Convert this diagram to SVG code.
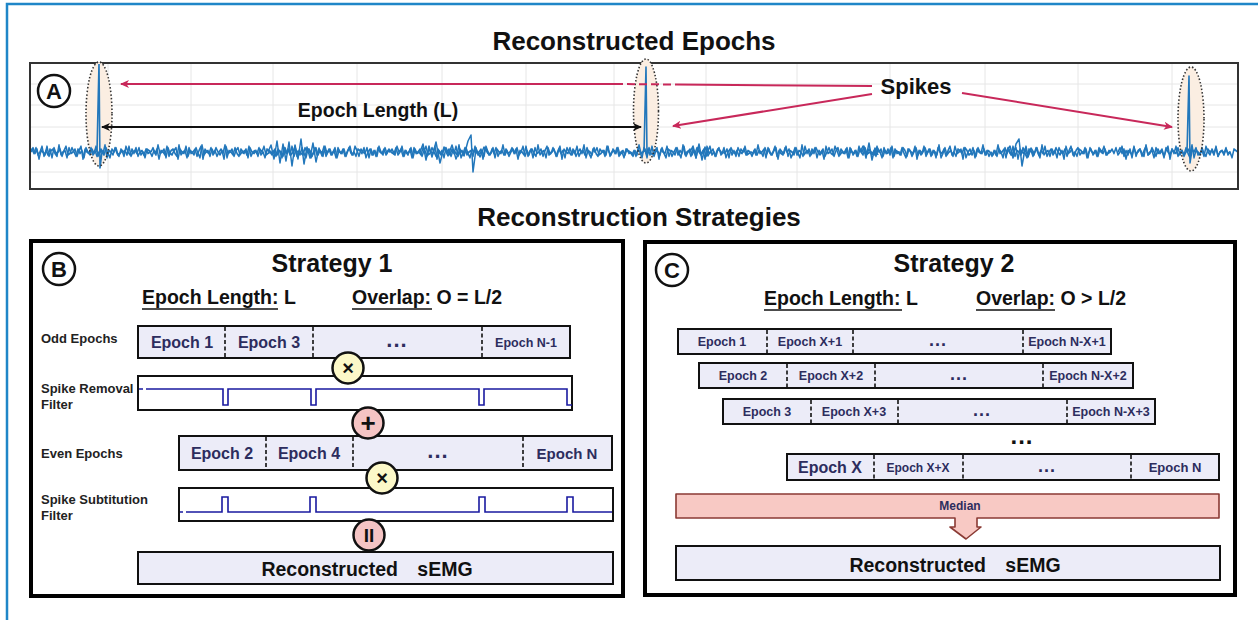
<svg xmlns="http://www.w3.org/2000/svg" width="1258" height="620" viewBox="0 0 1258 620">
<style>
text{font-family:"Liberation Sans",Arial,sans-serif;font-weight:bold}
.title{font-size:26px;fill:#111;text-anchor:middle}
.lbl{font-size:13px;fill:#222}
.ep{fill:#2d2d5e;text-anchor:middle}
.bar{fill:#ececf8;stroke:#111;stroke-width:2}
.div{stroke:#111;stroke-width:1.6;stroke-dasharray:4 2.5}
.panel{fill:#fff;stroke:#000;stroke-width:4}
.flt{fill:#fff;stroke:#111;stroke-width:2}
.sig{fill:none;stroke:#1a1aa0;stroke-width:1.6}
.op{stroke:#111;stroke-width:2.5}
.ul{stroke:#111;stroke-width:1.6}
.grid{stroke:#e6e6e6;stroke-width:1}
.emg{fill:none;stroke:#2277bb;stroke-width:1.5;stroke-linejoin:round}
.red{stroke:#c8285a;stroke-width:2;fill:none}
.ell{fill:none;stroke:#333;stroke-width:1.6;stroke-dasharray:1.5 2}
.ellf{fill:#fbeee2}
.letter{font-size:22px;fill:#111;text-anchor:middle}
</style>
<defs>
<marker id="redHead" markerWidth="10" markerHeight="10" refX="8" refY="5" orient="auto" markerUnits="userSpaceOnUse">
<path d="M0,1 L9,5 L0,9 L2.5,5 Z" fill="#c8285a"/>
</marker>
<marker id="blkHead" markerWidth="10" markerHeight="10" refX="8" refY="5" orient="auto-start-reverse" markerUnits="userSpaceOnUse">
<path d="M0,1 L9,5 L0,9 L2.5,5 Z" fill="#111"/>
</marker>
<path id="n1" d="M0 0 2 -2 4 1 6 -3 8 2 10 0 12 -4 14 3 16 -1 18 2 20 -2 22 4 24 -3 26 1 28 0 30 -2 32 3 34 -1 36 -4 38 2 40 1 42 -3 44 0 46 3 48 -2 50 1 52 -1 54 4 56 -3 58 0 60 2 62 -2 64 1 66 -4 68 3 70 0 72 -1 74 2 76 -3 78 1 80 4 82 -2 84 0 86 -3 88 2 90 1 92 -1 94 3 96 -4 98 0 100 2 102 -2 104 1 106 -3 108 3 110 0 112 -1 114 2 116 -2 118 1 120 0"/>
<path id="n2" d="M0 0 2 3 4 -1 6 2 8 -5 10 1 12 0 14 -2 16 4 18 -3 20 1 22 2 24 -1 26 -3 28 5 30 -2 32 0 34 1 36 -4 38 3 40 -1 42 0 44 2 46 -3 48 1 50 4 52 -5 54 2 56 0 58 -1 60 3 62 -2 64 1 66 -3 68 0 70 2 72 -1 74 5 76 -4 78 1 80 0 82 -2 84 3 86 -1 88 -3 90 2 92 0 94 1 96 -2 98 4 100 -3 102 0 104 1 106 -1 108 3 110 -2 112 0 114 -4 116 2 118 1 120 0"/>
<clipPath id="clipA"><rect x="31" y="64" width="1206" height="125"/></clipPath>
</defs>

<rect x="0" y="0" width="1258" height="620" fill="#fff"/>
<path d="M7,620 V4 H1258" fill="none" stroke="#1f86c8" stroke-width="2.5"/>

<text class="title" x="634" y="50">Reconstructed Epochs</text>
<text class="title" x="639" y="226">Reconstruction Strategies</text>

<!-- Panel A -->
<g id="panelA">
<rect x="30" y="63" width="1208" height="126" fill="#fff" stroke="#333" stroke-width="2"/>
<g class="grid">
<path d="M108,64V188M191,64V188M273,64V188M357,64V188M442,64V188M526,64V188M614,64V188M706,64V188M797,64V188M890,64V188M985,64V188M1078,64V188M1172,64V188"/>
<path d="M31,84H1237M31,105H1237M31,127H1237M31,172H1237"/>
</g>
<ellipse class="ellf" cx="99" cy="114" rx="13" ry="52"/>
<ellipse class="ellf" cx="646" cy="111" rx="12.5" ry="52"/>
<ellipse class="ellf" cx="1191" cy="119" rx="13" ry="52"/>
<g clip-path="url(#clipA)" class="emg">
<use href="#n1" transform="translate(30,152) scale(1,1.4)"/>
<use href="#n2" transform="translate(31,152) scale(1,-1.4)"/>
<use href="#n2" transform="translate(150,152) scale(1,1.4)"/>
<use href="#n1" transform="translate(271,152) scale(-1,1.4) translate(-120,0)"/>
<use href="#n1" transform="translate(270,152) scale(1,-1.4)"/>
<use href="#n2" transform="translate(391,152) scale(-1,1.4) translate(-120,0)"/>
<use href="#n1" transform="translate(390,152) scale(1,1.4)"/>
<use href="#n2" transform="translate(151,152) scale(1,-1.4)"/>
<use href="#n2" transform="translate(510,152) scale(1,-1.4)"/>
<use href="#n1" transform="translate(511,152) scale(1,1.4)"/>
<use href="#n1" transform="translate(630,152) scale(1,-1.4)"/>
<use href="#n2" transform="translate(631,152) scale(1,1.4)"/>
<use href="#n2" transform="translate(750,152) scale(1,1.4)"/>
<use href="#n1" transform="translate(751,152) scale(-1,1.4) translate(-120,0)"/>
<use href="#n1" transform="translate(870,152) scale(1,-1.4)"/>
<use href="#n2" transform="translate(871,152) scale(-1,1.4) translate(-120,0)"/>
<use href="#n2" transform="translate(990,152) scale(1,1.4)"/>
<use href="#n1" transform="translate(991,152) scale(1,-1.4)"/>
<use href="#n1" transform="translate(1110,152) scale(1,1.4)"/>
<use href="#n2" transform="translate(1118,152) scale(1,-1.4)"/>
<path d="M268,152 L271,145 L274,159 L277,141 L280,163 L283,144 L286,161 L289,142 L292,166 L295,145 L298,159 L301,139 L304,164 L307,147 L310,158 L313,143 L316,162 L319,148 L322,156 L325,150 L328,152"/>
<path d="M420,152 L423,144 L426,160 L429,146 L432,157 L436,142 L440,163 L444,147 L448,156 L452,145 L456,159 L460,149 L464,156 L468,141 L471,135 L473,172 L476,149 L480,157 L484,147 L488,154"/>
<path d="M690,152 L693,146 L696,158 L699,144 L702,160 L705,147 L708,156 L711,150"/>
<path d="M860,152 L863,146 L866,158 L869,143 L872,160 L875,148 L878,155"/>
<path d="M1006,152 L1010,146 L1013,158 L1016,144 L1019,139 L1022,166 L1025,149 L1028,157 L1031,148 L1034,153"/>
<path d="M97,152 L99,63 L100,168 L102,152" stroke-width="1.6"/>
<path d="M644,152 L646,67 L647,155 L649,150" stroke-width="1.6"/>
<path d="M1187,152 L1189,76 L1190,163 L1192,150" stroke-width="1.6"/>
</g>
<ellipse class="ell" cx="99" cy="114" rx="13" ry="52"/>
<ellipse class="ell" cx="646" cy="111" rx="12.5" ry="52"/>
<ellipse class="ell" cx="1191" cy="119" rx="13" ry="52"/>
<circle cx="54" cy="91" r="16" fill="#fff" stroke="#111" stroke-width="2.5"/>
<text class="letter" x="54" y="99">A</text>
<text x="916" y="94" font-size="22" fill="#111" text-anchor="middle">Spikes</text>
<text x="378" y="117" font-size="19.5" fill="#111" text-anchor="middle">Epoch Length (L)</text>
</g>

<g id="connectorsA">
<path class="red" d="M615,84 L121,84" marker-end="url(#redHead)"/>
<path class="red" d="M615,84 L677,84.5" stroke-dasharray="8 4"/>
<path class="red" d="M677,84.5 L872,86"/>
<path class="red" d="M872,94 L673,126" marker-end="url(#redHead)"/>
<path class="red" d="M962,93 L1172,127" marker-end="url(#redHead)"/>
<path d="M102,127 L641,127" stroke="#111" stroke-width="2" marker-start="url(#blkHead)" marker-end="url(#blkHead)"/>
</g>

<!-- Panel B -->
<g id="panelB">
<rect class="panel" x="31" y="241" width="592" height="355"/>
<circle cx="59" cy="269" r="16" fill="#fff" stroke="#111" stroke-width="2.5"/>
<text class="letter" x="59" y="277">B</text>
<text x="332" y="272" font-size="25" fill="#111" text-anchor="middle">Strategy 1</text>
<text x="142" y="304" font-size="19.5" fill="#111">Epoch Length: L</text>
<line class="ul" x1="142" y1="309" x2="278" y2="309"/>
<text x="352" y="304" font-size="19.5" fill="#111">Overlap: O = L/2</text>
<line class="ul" x1="352" y1="309" x2="432" y2="309"/>
</g>

<g id="oddEpochs">
<text class="lbl" x="41" y="343">Odd Epochs</text>
<rect class="bar" x="138" y="326" width="432" height="32"/>
<path class="div" d="M225,327V357M313,327V357M482,327V357"/>
<text class="ep" x="182" y="348" font-size="16">Epoch 1</text>
<text class="ep" x="269" y="348" font-size="16">Epoch 3</text>
<text class="ep" x="397" y="347" font-size="22" letter-spacing="1">...</text>
<text class="ep" x="526" y="347" font-size="12.5">Epoch N-1</text>
</g>

<g id="removalFilter">
<text class="lbl" x="41" y="393">Spike Removal</text>
<text class="lbl" x="41" y="409">Filter</text>
<rect class="flt" x="138" y="376" width="434" height="34"/>
<path class="sig" d="M139,389 H143 M146,389 H223 V405 H228 V389 H311 V405 H316 V389 H479 V405 H484 V389 H567 V405 H572"/>
</g>

<g id="evenEpochs">
<text class="lbl" x="41" y="458">Even Epochs</text>
<rect class="bar" x="179" y="436" width="433" height="34"/>
<path class="div" d="M266,437V469M353,437V469M523,437V469"/>
<text class="ep" x="222" y="459" font-size="16">Epoch 2</text>
<text class="ep" x="309" y="459" font-size="16">Epoch 4</text>
<text class="ep" x="438" y="458" font-size="22" letter-spacing="1">...</text>
<text class="ep" x="567" y="459" font-size="15">Epoch N</text>
</g>

<g id="substitutionFilter">
<text class="lbl" x="41" y="504">Spike Subtitution</text>
<text class="lbl" x="41" y="520">Filter</text>
<rect class="flt" x="179" y="488" width="434" height="33"/>
<path class="sig" d="M180,512 H183 M186,512 H222 V497 H228 V512 H310 V497 H316 V512 H479 V497 H485 V512 H567 V497 H573 V512 H612"/>
</g>

<g id="reconB">
<rect class="bar" x="138" y="552" width="475" height="32"/>
<text x="367" y="576" font-size="19.5" fill="#111" text-anchor="middle" word-spacing="14">Reconstructed sEMG</text>
</g>

<g id="operators">
<circle class="op" cx="348" cy="368" r="15.5" fill="#fcf8c8"/>
<text x="348" y="375" font-size="20" fill="#111" text-anchor="middle">×</text>
<circle class="op" cx="368" cy="423" r="15.5" fill="#f5c4c4"/>
<text x="368" y="432" font-size="26" fill="#111" text-anchor="middle">+</text>
<circle class="op" cx="382" cy="478" r="15.5" fill="#fcf8c8"/>
<text x="382" y="485" font-size="20" fill="#111" text-anchor="middle">×</text>
<circle class="op" cx="369" cy="535" r="15.5" fill="#f5c4c4"/>
<text x="369" y="542" font-size="19" fill="#111" text-anchor="middle">II</text>
</g>

<!-- Panel C -->
<g id="panelC">
<rect class="panel" x="645" y="242" width="590" height="353"/>
<circle cx="672" cy="270" r="16" fill="#fff" stroke="#111" stroke-width="2.5"/>
<text class="letter" x="672" y="278">C</text>
<text x="954" y="272" font-size="25" fill="#111" text-anchor="middle">Strategy 2</text>
<text x="764" y="305" font-size="19.5" fill="#111">Epoch Length: L</text>
<line class="ul" x1="764" y1="310" x2="902" y2="310"/>
<text x="976" y="305" font-size="19.5" fill="#111">Overlap: O &gt; L/2</text>
<line class="ul" x1="976" y1="310" x2="1055" y2="310"/>
</g>

<g id="row1">
<rect class="bar" x="678" y="329" width="433" height="25"/>
<path class="div" d="M767,330V353M853,330V353M1023,330V353"/>
<text class="ep" x="722" y="346" font-size="12.5">Epoch 1</text>
<text class="ep" x="810" y="346" font-size="12.5">Epoch X+1</text>
<text class="ep" x="938" y="346" font-size="18" letter-spacing="1">...</text>
<text class="ep" x="1067" y="346" font-size="12.5">Epoch N-X+1</text>
</g>
<g id="row2">
<rect class="bar" x="699" y="363" width="434" height="25"/>
<path class="div" d="M787,364V387M875,364V387M1043,364V387"/>
<text class="ep" x="743" y="380" font-size="12.5">Epoch 2</text>
<text class="ep" x="831" y="380" font-size="12.5">Epoch X+2</text>
<text class="ep" x="959" y="380" font-size="18" letter-spacing="1">...</text>
<text class="ep" x="1088" y="380" font-size="12.5">Epoch N-X+2</text>
</g>
<g id="row3">
<rect class="bar" x="723" y="399" width="432" height="25"/>
<path class="div" d="M811,400V423M898,400V423M1067,400V423"/>
<text class="ep" x="767" y="416" font-size="12.5">Epoch 3</text>
<text class="ep" x="854" y="416" font-size="12.5">Epoch X+3</text>
<text class="ep" x="982" y="416" font-size="18" letter-spacing="1">...</text>
<text class="ep" x="1111" y="416" font-size="12.5">Epoch N-X+3</text>
</g>
<text x="1022" y="444" font-size="24" fill="#111" text-anchor="middle" letter-spacing="1">...</text>
<g id="rowX">
<rect class="bar" x="787" y="454" width="432" height="26"/>
<path class="div" d="M874,455V479M963,455V479M1131,455V479"/>
<text class="ep" x="830" y="473" font-size="16">Epoch X</text>
<text class="ep" x="918" y="472" font-size="12">Epoch X+X</text>
<text class="ep" x="1047" y="472" font-size="18" letter-spacing="1">...</text>
<text class="ep" x="1175" y="472" font-size="13">Epoch N</text>
</g>
<g id="median">
<path d="M676,494 H1219 V518 H977 V527 H981 L966,539 L950,527 H955 V518 H676 Z" fill="#f8c9c4" stroke="#8a3a34" stroke-width="1.6" stroke-linejoin="round"/>
<text class="ep" x="960" y="510" font-size="12">Median</text>
</g>
<g id="reconC">
<rect class="bar" x="676" y="546" width="544" height="34"/>
<text x="955" y="572" font-size="19.5" fill="#111" text-anchor="middle" word-spacing="14">Reconstructed sEMG</text>
</g>
</svg>
